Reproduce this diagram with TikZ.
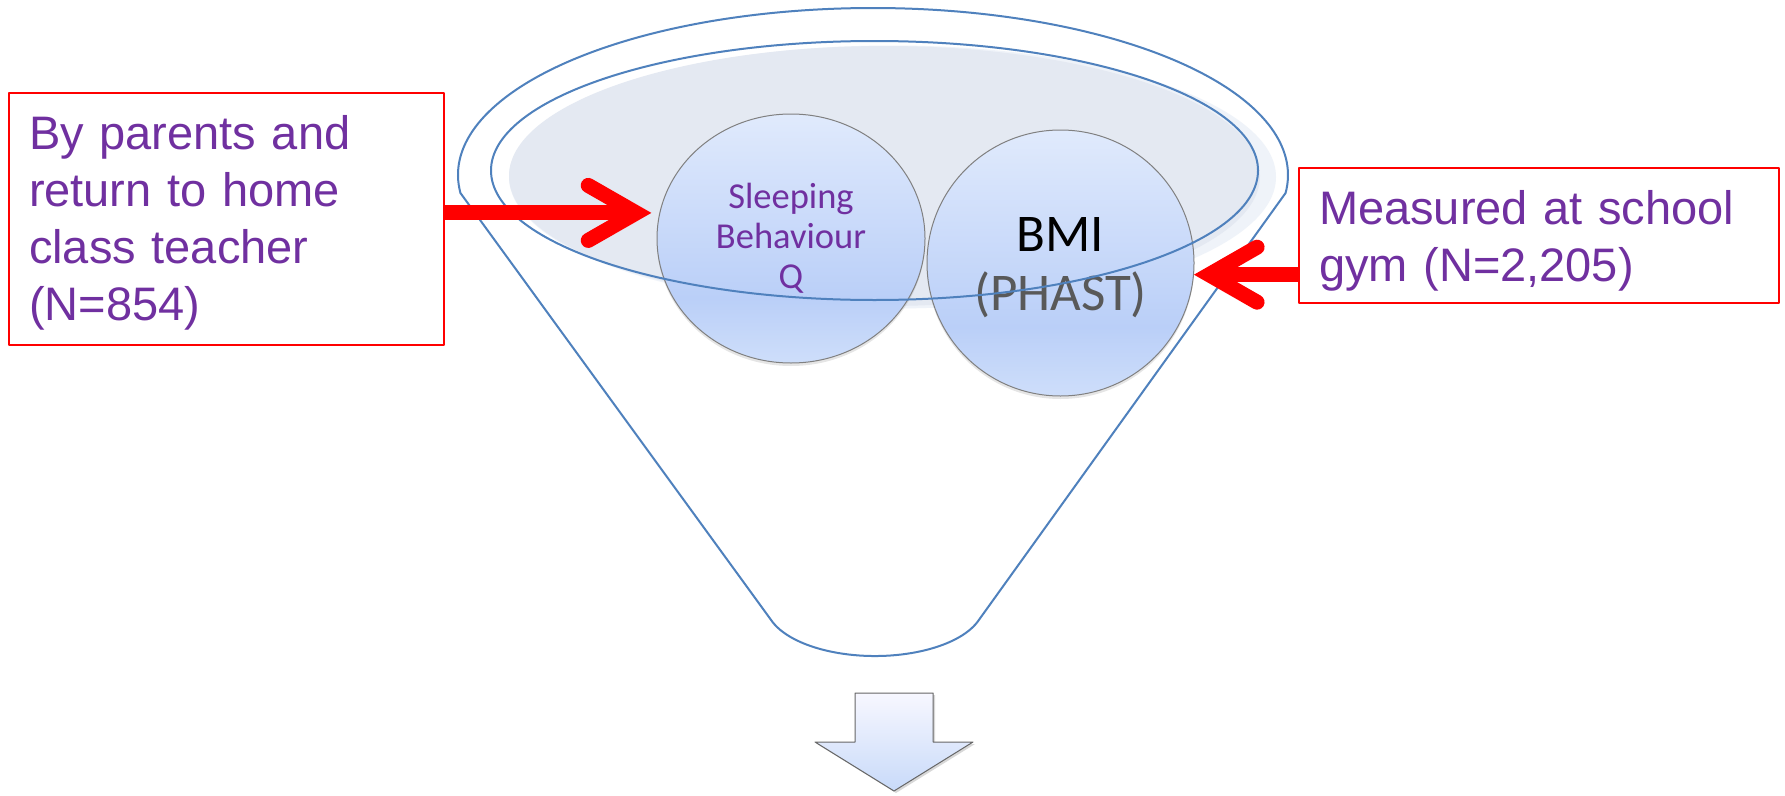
\documentclass[tikz,border=0pt]{standalone}
\usepackage{fontspec}
\setmainfont{Liberation Sans}
\newfontfamily\calibri{Carlito}
\usetikzlibrary{arrows.meta,shapes.geometric,shadows}
\definecolor{funblue}{RGB}{79,129,189}
\definecolor{txtpurple}{RGB}{112,48,160}
\definecolor{bowl}{RGB}{228,233,242}
\definecolor{bowlrim}{RGB}{239,243,249}
\definecolor{bubtop}{RGB}{224,234,252}
\definecolor{bubmid}{RGB}{186,207,248}
\definecolor{bubbot}{RGB}{206,222,250}
\definecolor{phast}{RGB}{89,89,89}
\pgfdeclareverticalshading{bubshade}{100bp}{color(0bp)=(bubbot); color(25bp)=(bubbot); color(38bp)=(bubmid); color(75bp)=(bubtop); color(100bp)=(bubtop)}
\tikzset{
  funnel/.style={draw=funblue, line width=2pt},
  bubble/.style={ellipse, draw=black!50, line width=1pt, shading=bubshade, inner sep=0pt, align=center,
    drop shadow={shadow xshift=0pt, shadow yshift=-3pt, opacity=0.2}},
  infobox/.style={draw=red, line width=2pt, inner xsep=20pt, align=left, text=txtpurple,
    font=\fontsize{47}{57}\selectfont},
  redarrow/.style={draw=red, line width=15pt, -{Straight Barb[length=48pt, width=55pt, line cap=round, line join=miter]}},
  downblock/.style={draw=black!60, line width=1pt, top color=blue!3, bottom color={rgb,255:red,200;green,218;blue,249},
    drop shadow={shadow xshift=2pt, shadow yshift=-2pt, opacity=0.3}}
}
\begin{document}
\begin{tikzpicture}[x=1pt, y=-1pt, line join=round]
  \def\cx{873} \def\cy{175} % centre of the funnel mouth
  \path[use as bounding box, fill=white] (0,0) rectangle (1785,795);
  % bowl
  \fill[bowlrim] (892.5,177) ellipse[x radius=383.5, y radius=131.5];
  \fill[bowl] (884.5,176) ellipse[x radius=375.5, y radius=130];
  % funnel outline
  \draw[funnel] (\cx,\cy) ++(173.8:415 and 167) arc[start angle=173.8, end angle=366.2, x radius=415, y radius=167]
    -- (977.4,622) arc[start angle=20, end angle=160, x radius=109, y radius=51.7] -- cycle;
  % circles
  \node[bubble, minimum width=268pt, minimum height=249pt, text=txtpurple,
    font=\calibri\fontsize{36.5}{40}\selectfont] (sleep) at (791,238.5) {Sleeping\\Behaviour\\Q};
  \node[bubble, minimum width=267pt, minimum height=266pt,
    font=\calibri\fontsize{53}{59}\selectfont] (bmi) at (1060.5,263) {\rule{0pt}{44pt}BMI\\\textcolor{phast}{(PHAST)}};
  \draw[funnel] (874.5,170.5) ellipse[x radius=383.5, y radius=129.5];
  % boxes
  \node[infobox, minimum width=435pt, minimum height=252pt, text width=395pt] (parents) at (226.5,219)
    {\rule{0pt}{41pt}By parents and\\return to home\\class teacher\\(N=854)};
  \node[infobox, minimum width=480pt, minimum height=135pt, text width=440pt] (school) at (1539,235.5)
    {\rule{0pt}{44pt}Measured at school\\gym (N=2,205)};
  \draw[redarrow, shorten >=8pt] (parents.east |- sleep.169) -- (sleep.169);
  \draw[redarrow] (school.west |- bmi.-5) -- (bmi.-5);
  % output arrow
  \path[downblock] (855,693) -- (933,693) -- (933,742) -- (973,742) -- (894,791) -- (815,742) -- (855,742) -- cycle;
\end{tikzpicture}
\end{document}
